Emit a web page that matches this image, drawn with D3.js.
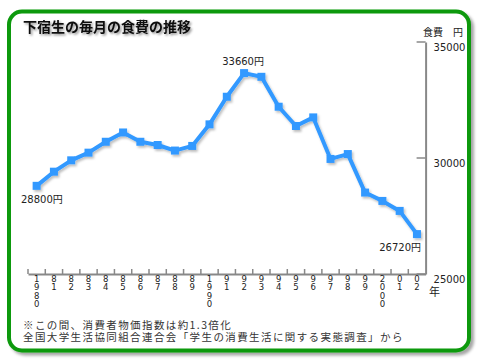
<!DOCTYPE html>
<html><head><meta charset="utf-8">
<script src="https://cdn.jsdelivr.net/npm/d3@7"></script>
<style>
html,body{margin:0;padding:0;background:#fff;}
svg{display:block;}
</style></head>
<body>
<script>
const years = ["1980","81","82","83","84","85","86","87","88","89","1990","91","92","93","94","95","96","97","98","99","2000","01","02"];
const foodCost = [28800,29410,29900,30230,30700,31100,30700,30560,30320,30520,31450,32640,33660,33500,32210,31380,31750,29960,30170,28510,28150,27720,26720];
const yTicks = [25000,30000,35000];
const title = "下宿生の毎月の食費の推移";
const yTitle = "食費　円";
const xUnit = "年";
const notes = ["※この間、消費者物価指数は約1.3倍化","全国大学生活協同組合連合会「学生の消費生活に関する実態調査」から"];
const labelled = [{i:0, text:"28800円"},{i:12, text:"33660円"},{i:22, text:"26720円"}];

const W=480,H=364;
const svg=d3.select("body").append("svg").attr("width",W).attr("height",H);
const defs=svg.append("defs");
const f1=defs.append("filter").attr("id","frameShadow").attr("x","-10%").attr("y","-10%").attr("width","120%").attr("height","120%");
f1.append("feDropShadow").attr("dx",3).attr("dy",3).attr("stdDeviation",1.5).attr("flood-color","#000").attr("flood-opacity",0.35);
const f2=defs.append("filter").attr("id","lineShadow").attr("x","-10%").attr("y","-10%").attr("width","120%").attr("height","130%");
f2.append("feDropShadow").attr("dx",1.5).attr("dy",2).attr("stdDeviation",1).attr("flood-color","#000").attr("flood-opacity",0.25);
const f3=defs.append("filter").attr("id","titleShadow").attr("x","-10%").attr("y","-30%").attr("width","120%").attr("height","160%");
f3.append("feDropShadow").attr("dx",1.5).attr("dy",1.5).attr("stdDeviation",1.2).attr("flood-color","#000").attr("flood-opacity",0.45);

// frame
svg.append("rect").attr("x",9).attr("y",11.5).attr("width",460).attr("height",339).attr("rx",13)
  .attr("fill","#fff").attr("stroke","#0a990a").attr("stroke-width",4).attr("filter","url(#frameShadow)");

const cjk = "'Noto Sans CJK JP', sans-serif";
const num = "'DejaVu Sans', 'Noto Sans CJK JP', sans-serif";

svg.append("text").attr("x",23).attr("y",32).text(title)
  .attr("font-family",cjk).attr("font-weight","bold").attr("font-size",14).attr("fill","#111")
  .attr("filter","url(#titleShadow)");

const x=d3.scaleBand().domain(years).range([28,425.6]).padding(0);
const y=d3.scaleLinear().domain([25000,35000]).range([274,42]);

// x axis
const gx=svg.append("g").attr("transform","translate(0,274)");
gx.call(d3.axisBottom(x).tickSize(0).tickFormat(""));
gx.select(".domain").attr("stroke","#888").attr("stroke-width",2);
gx.selectAll(".xtick").data(years).enter().append("line").attr("class","xtick")
  .attr("x1",d=>x(d)).attr("x2",d=>x(d)).attr("y1",0).attr("y2",-5)
  .attr("stroke","#888").attr("stroke-width",1.5);
const xl=gx.selectAll(".xl").data(years).enter().append("text").attr("class","xl")
  .attr("font-family",num).attr("font-size",8.5).attr("fill","#222").attr("text-anchor","middle");
xl.each(function(d){
  const t=d3.select(this);
  d.split("").forEach((c,k)=>{
    t.append("tspan").attr("x",x(d)+x.bandwidth()/2).attr("y",7.5+k*8.5).text(c);
  });
});
svg.append("text").attr("x",429).attr("y",296).text(xUnit).attr("font-family",cjk).attr("font-size",11).attr("fill","#222");

// y axis (right)
const gy=svg.append("g").attr("transform","translate(425.6,0)");
gy.call(d3.axisRight(y).tickValues(yTicks).tickSize(0).tickFormat(d3.format("d")));
gy.select(".domain").attr("stroke","#888").attr("stroke-width",2);
gy.selectAll(".tick text").attr("font-family",num).attr("font-size",10).attr("fill","#222").attr("x",8).attr("dy","0.8em");
gy.selectAll(".ytk").data(yTicks).enter().append("line").attr("class","ytk")
  .attr("x1",0).attr("x2",-9).attr("y1",d=>y(d)).attr("y2",d=>y(d)).attr("stroke","#888").attr("stroke-width",1.5);
svg.append("text").attr("x",423).attr("y",35.5).text(yTitle).attr("font-family",cjk).attr("font-size",10).attr("fill","#222");

// line
const cx=d=>x(d)+x.bandwidth()/2;
const g=svg.append("g").attr("filter","url(#lineShadow)");
g.append("path").datum(foodCost.map((v,i)=>[years[i],v]))
  .attr("d",d3.line().x(d=>cx(d[0])).y(d=>y(d[1])))
  .attr("fill","none").attr("stroke","#3399ff").attr("stroke-width",4).attr("stroke-linejoin","round");
g.selectAll(".pt").data(foodCost).enter().append("rect").attr("class","pt")
  .attr("x",(d,i)=>cx(years[i])-4).attr("y",d=>y(d)-4).attr("width",8).attr("height",8).attr("fill","#3399ff");

// value labels
const lab = svg.selectAll(".vl").data(labelled).enter().append("text").attr("class","vl")
  .attr("font-family",num).attr("font-size",10).attr("fill","#222")
  .text(d=>d.text);
lab.attr("x",d=>d.i===0?21:(d.i===22?421:cx(years[d.i])-1))
   .attr("y",d=>d.i===12?y(foodCost[d.i])-8:y(foodCost[d.i])+17)
   .attr("text-anchor",d=>d.i===0?"start":(d.i===22?"end":"middle"));

// notes
svg.selectAll(".note").data(notes).enter().append("text").attr("class","note")
  .attr("x",23).attr("y",(d,i)=>328.5+i*12.5).text(d=>d)
  .attr("font-family",cjk).attr("font-size",10.5).attr("letter-spacing",1.4).attr("fill","#333");
</script>
</body></html>
